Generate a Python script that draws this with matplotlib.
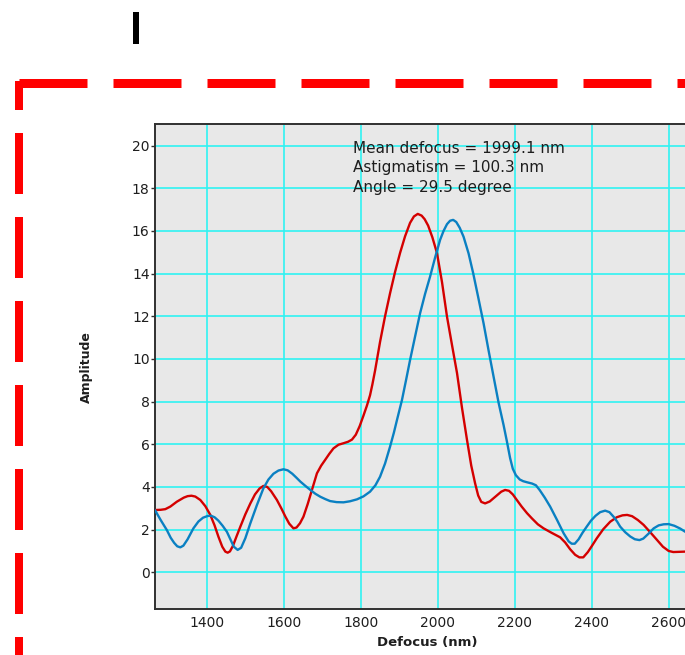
import matplotlib
matplotlib.use("Agg")
import matplotlib.pyplot as plt
from matplotlib.lines import Line2D

# defocus scan (nm) and amplitude for the two fitted profiles
red_defocus = [1266, 1280, 1292, 1305, 1322, 1340, 1350, 1360, 1370, 1383, 1396, 1409,
               1420, 1430, 1440, 1448, 1454, 1460, 1468, 1477, 1487, 1500, 1513, 1525,
               1537, 1547, 1557, 1567, 1582, 1594, 1604, 1614, 1625, 1633, 1642, 1651,
               1662, 1673, 1686, 1697, 1707, 1718, 1729, 1742, 1755, 1767, 1777, 1787,
               1797, 1807, 1816, 1824, 1830, 1837, 1850, 1863, 1876, 1889, 1902, 1915,
               1928, 1938, 1948, 1958, 1966, 1975, 1986, 1998, 2011, 2024, 2037, 2050,
               2063, 2076, 2087, 2097, 2105, 2113, 2123, 2135, 2150, 2165, 2175, 2185,
               2195, 2205, 2218, 2232, 2245, 2260, 2275, 2296, 2318, 2331, 2344, 2357,
               2368, 2378, 2390, 2401, 2413, 2430, 2448, 2465, 2480, 2492, 2505, 2520,
               2535, 2552, 2570, 2585, 2600, 2612, 2643, 2678]
red_amp = [2.92, 2.93, 2.96, 3.08, 3.31, 3.50, 3.57, 3.59, 3.55, 3.39, 3.10, 2.69,
           2.20, 1.67, 1.20, 0.97, 0.92, 0.98, 1.25, 1.68, 2.14, 2.72, 3.23, 3.65,
           3.93, 4.05, 4.00, 3.80, 3.39, 2.98, 2.61, 2.28, 2.06, 2.10, 2.30, 2.61,
           3.20, 3.86, 4.64, 5.00, 5.26, 5.55, 5.81, 5.98, 6.05, 6.12, 6.22, 6.45,
           6.85, 7.35, 7.82, 8.30, 8.80, 9.45, 10.80, 12.00, 13.08, 14.08, 14.97, 15.75,
           16.38, 16.68, 16.80, 16.72, 16.55, 16.25, 15.70, 14.96, 13.60, 11.98, 10.65, 9.34,
           7.70, 6.20, 5.00, 4.17, 3.60, 3.30, 3.23, 3.32, 3.55, 3.78, 3.86, 3.82,
           3.65, 3.40, 3.08, 2.77, 2.52, 2.25, 2.06, 1.85, 1.64, 1.40, 1.08, 0.82,
           0.70, 0.70, 0.95, 1.25, 1.59, 2.02, 2.37, 2.58, 2.67, 2.69, 2.63, 2.45,
           2.22, 1.88, 1.51, 1.20, 1.00, 0.95, 0.97, 0.97]

blue_defocus = [1266, 1280, 1296, 1306, 1315, 1323, 1331, 1339, 1350, 1365, 1378, 1390,
                1402, 1411, 1420, 1430, 1441, 1452, 1461, 1470, 1480, 1489, 1500, 1513,
                1530, 1547, 1560, 1573, 1586, 1599, 1610, 1622, 1633, 1643, 1656, 1669,
                1682, 1695, 1708, 1720, 1737, 1755, 1772, 1790, 1807, 1824, 1838, 1850,
                1863, 1876, 1886, 1894, 1907, 1918, 1928, 1941, 1954, 1967, 1980, 1993,
                2006, 2015, 2024, 2032, 2040, 2048, 2057, 2067, 2080, 2092, 2105, 2119,
                2132, 2145, 2158, 2171, 2180, 2188, 2195, 2203, 2213, 2222, 2232, 2245,
                2255, 2265, 2278, 2292, 2310, 2327, 2340, 2348, 2356, 2366, 2376, 2387,
                2398, 2410, 2422, 2435, 2446, 2457, 2466, 2474, 2487, 2500, 2512, 2524,
                2534, 2547, 2561, 2574, 2587, 2600, 2615, 2630, 2643, 2678]
blue_amp = [2.89, 2.45, 1.98, 1.62, 1.38, 1.22, 1.17, 1.25, 1.55, 2.06, 2.38, 2.56,
            2.64, 2.65, 2.58, 2.42, 2.18, 1.90, 1.55, 1.20, 1.05, 1.15, 1.60, 2.30,
            3.15, 3.94, 4.35, 4.62, 4.77, 4.83, 4.78, 4.62, 4.43, 4.25, 4.05, 3.86,
            3.68, 3.54, 3.43, 3.34, 3.29, 3.28, 3.33, 3.42, 3.56, 3.78, 4.08, 4.48,
            5.10, 5.89, 6.55, 7.14, 8.08, 9.05, 9.95, 11.05, 12.14, 13.05, 13.86, 14.75,
            15.58, 16.00, 16.32, 16.48, 16.52, 16.42, 16.15, 15.73, 14.95, 14.02, 12.90, 11.67,
            10.40, 9.17, 7.95, 6.90, 6.10, 5.35, 4.85, 4.55, 4.35, 4.27, 4.22, 4.16,
            4.08, 3.85, 3.50, 3.08, 2.45, 1.83, 1.45, 1.34, 1.34, 1.55, 1.85, 2.14,
            2.42, 2.65, 2.82, 2.89, 2.82, 2.60, 2.38, 2.14, 1.88, 1.68, 1.55, 1.51,
            1.58, 1.80, 2.06, 2.20, 2.25, 2.26, 2.18, 2.05, 1.90, 1.55]

x_ticks = [1400, 1600, 1800, 2000, 2200, 2400, 2600]
y_ticks = [0, 2, 4, 6, 8, 10, 12, 14, 16, 18, 20]
fit_lines = ["Mean defocus = 1999.1 nm",
             "Astigmatism = 100.3 nm",
             "Angle = 29.5 degree"]

W, H, DPI = 685, 655, 100
PT = 72.0 / DPI  # points per pixel

plt.rcParams['font.family'] = ['DejaVu Sans']
plt.rcParams['lines.scale_dashes'] = False


def fx(px):
    return px / W


def fy(py):
    # py measured from the top edge
    return 1 - py / H


fig = plt.figure(figsize=(W / DPI, H / DPI), dpi=DPI)
fig.patch.set_facecolor('white')

# small black marker at the top
fig.add_artist(Line2D([fx(136.3), fx(136.3)], [fy(12), fy(44)], transform=fig.transFigure,
                      color='black', lw=6 * PT, solid_capstyle='butt'))

# red dashed frame (top and left edges)
fig.add_artist(Line2D([fx(19), fx(700)], [fy(82.5), fy(82.5)], transform=fig.transFigure,
                      color='#ff0000', lw=9 * PT, dash_capstyle='butt',
                      linestyle=(0, (68 * PT, 26 * PT))))
fig.add_artist(Line2D([fx(19), fx(19)], [fy(81), fy(660)], transform=fig.transFigure,
                      color='#ff0000', lw=8 * PT, dash_capstyle='butt',
                      linestyle=(32 * PT, (61 * PT, 23 * PT))))

# plot area
ax_left, ax_top, ax_bottom, ax_w = 155.3, 124.3, 609.0, 543.4
ax = fig.add_axes([fx(ax_left), fy(ax_bottom), ax_w / W, (ax_bottom - ax_top) / H])
ax.set_facecolor('#e8e8e8')

ax.plot(red_defocus, red_amp, color='#d40000', lw=1.7, zorder=3)
ax.plot(blue_defocus, blue_amp, color='#0a80c2', lw=1.7, zorder=3)

ax.set_xlim(1266, 2678)
ax.set_ylim(-1.72, 21.0)
ax.set_xticks(x_ticks)
ax.set_yticks(y_ticks)
ax.grid(True, color='#30f2f2', lw=1.2, zorder=1)
ax.set_axisbelow(True)

for side in ['left', 'bottom', 'top']:
    ax.spines[side].set_color('#303030')
    ax.spines[side].set_linewidth(1.4)
ax.spines['right'].set_visible(False)

ax.tick_params(axis='y', length=3.1, width=1, color='#303030',
               pad=1, labelsize=10, labelcolor='#1e1e1e')
ax.tick_params(axis='x', length=0, pad=5, labelsize=10, labelcolor='#1e1e1e')

ax.set_xlabel('Defocus (nm)', fontsize=9.5, fontweight='bold', color='#1e1e1e')
ax.set_ylabel('Amplitude', fontsize=9, fontweight='bold', color='#1e1e1e')
ax.xaxis.set_label_coords(0.5, -0.056)
ax.yaxis.set_label_coords((93 - ax_left) / ax_w, 0.5)

for i, line in enumerate(fit_lines):
    ax.text(1779.5, 19.67 - 0.91 * i, line, fontsize=11, color='#1e1e1e',
            va='baseline', ha='left', zorder=4)

fig.savefig('out.png', dpi=DPI)
